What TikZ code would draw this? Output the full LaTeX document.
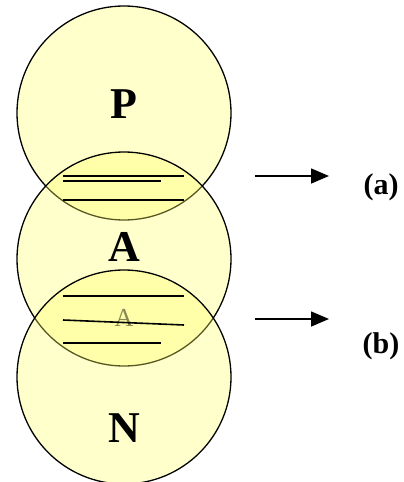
\documentclass[tikz,border=0pt]{standalone}
\usepackage{fontspec}
\setmainfont{Liberation Serif}
\usetikzlibrary{arrows.meta}
\definecolor{venn}{RGB}{255,255,102}
\tikzset{
  setdisc/.style={circle, draw=black, line width=1.3pt, fill=venn, fill opacity=0.34, minimum size=214pt, inner sep=0pt},
  setname/.style={font=\bfseries\fontsize{44}{48}\selectfont},
  hatch/.style={line width=1.6pt, black},
  pointer/.style={line width=1.6pt, -{Triangle[length=18pt,width=15pt]}},
  tag/.style={font=\bfseries\fontsize{30}{34}\selectfont},
}
\begin{document}
\begin{tikzpicture}[x=1pt,y=-1pt]
\useasboundingbox (0,0) rectangle (404,482);
\node[setdisc] (setP) at (124,113) {};
\node[setname] (nameP) at (124,104) {P};
\node[setdisc] (setA) at (124,259) {};
\node[setname] (nameA) at (124,247) {A};
\draw[hatch] (63,176) coordinate (pa1) -- (184,176) coordinate (pa2);
\draw[hatch] (63,181) coordinate (pa3) -- (161,181) coordinate (pa4);
\draw[hatch] (63,200) coordinate (pa5) -- (184,200) coordinate (pa6);
\node[font=\fontsize{26}{30}\selectfont, text=black!70] (ghostA) at (124,318) {A};
\node[setdisc] (setN) at (124,377) {};
\node[setname] (nameN) at (124,428) {N};
\draw[hatch] (63,296) coordinate (an1) -- (184,296) coordinate (an2);
\draw[hatch] (63,320) coordinate (an3) -- (184,325) coordinate (an4);
\draw[hatch] (63,343) coordinate (an5) -- (161,343) coordinate (an6);
\coordinate (fromA) at (255,176);
\coordinate (toA) at (329,176);
\coordinate (fromB) at (255,319);
\coordinate (toB) at (329,319);
\draw[pointer] (fromA) -- (toA);
\draw[pointer] (fromB) -- (toB);
\node[tag] (tagA) at (381,187) {(a)};
\node[tag] (tagB) at (381,346) {(b)};
\end{tikzpicture}
\end{document}
